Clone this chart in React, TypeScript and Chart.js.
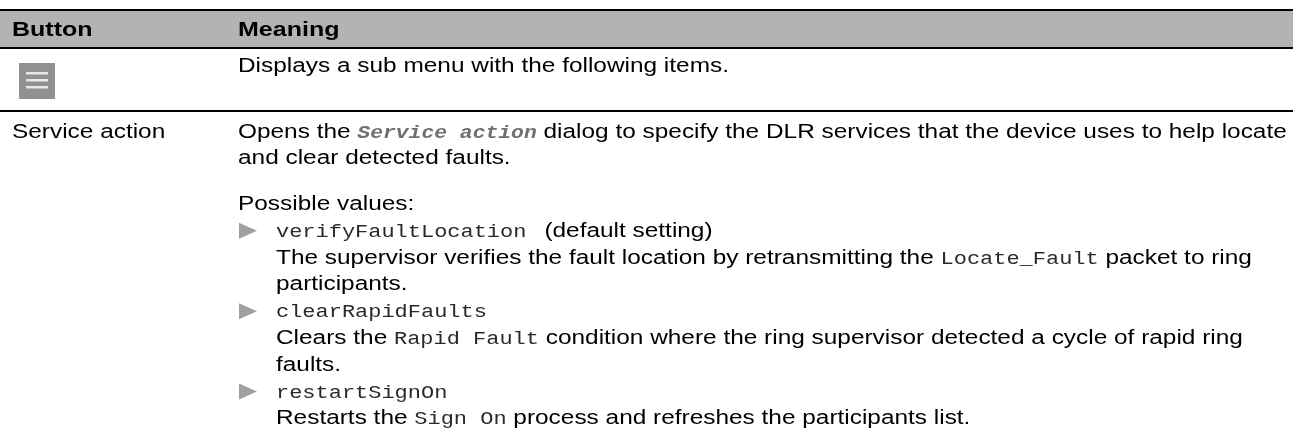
import React, { useEffect, useRef } from "react";
import { Chart, registerables } from "chart.js";

Chart.register(...registerables);

// ---------- content ----------
const headers: string[] = ["Button", "Meaning"];
const buttonLabels: string[] = ["", "Service action"];
const row1Text: string = "Displays a sub menu with the following items.";

type Run = [string, string]; // [style, text]  t=text, m=mono, mi=mono italic bold
const introLines: Run[][] = [
  [["t", "Opens the "], ["mi", "Service action"], ["t", " dialog to specify the DLR services that the device uses to help locate"]],
  [["t", "and clear detected faults."]],
];
const possibleLabel: string = "Possible values:";
const optionNames: string[] = ["verifyFaultLocation", "clearRapidFaults", "restartSignOn"];
const optionNotes: string[] = ["(default setting)", "", ""];
const optionDescriptions: Run[][][] = [
  [
    [["t", "The supervisor verifies the fault location by retransmitting the "], ["m", "Locate_Fault"], ["t", " packet to ring"]],
    [["t", "participants."]],
  ],
  [
    [["t", "Clears the "], ["m", "Rapid Fault"], ["t", " condition where the ring supervisor detected a cycle of rapid ring"]],
    [["t", "faults."]],
  ],
  [
    [["t", "Restarts the "], ["m", "Sign On"], ["t", " process and refreshes the participants list."]],
  ],
];

// ---------- style ----------
const SX = 1.22; // horizontal stretch of the reference rendering
const FONTS: Record<string, string> = {
  t: '20px "Liberation Sans", Arial, sans-serif',
  b: 'bold 20.5px "Liberation Sans", Arial, sans-serif',
  m: '18px "Liberation Mono", "Courier New", monospace',
  mi: 'italic bold 17.5px "Liberation Mono", "Courier New", monospace',
};
const COLORS: Record<string, string> = {
  t: "#000000",
  b: "#000000",
  m: "#2a2a2a",
  mi: "#707070",
};

function drawRun(ctx: CanvasRenderingContext2D, x: number, y: number, style: string, text: string): number {
  ctx.save();
  ctx.font = FONTS[style];
  ctx.fillStyle = COLORS[style];
  ctx.textBaseline = "alphabetic";
  ctx.translate(x, y);
  ctx.scale(SX, 1);
  ctx.fillText(text, 0, 0);
  const w = ctx.measureText(text).width * SX;
  ctx.restore();
  return w;
}

function drawRuns(ctx: CanvasRenderingContext2D, x: number, y: number, runs: Run[]) {
  let cx = x;
  for (const [s, t] of runs) cx += drawRun(ctx, cx, y, s, t);
}

const tablePlugin = {
  id: "tableDraw",
  afterDraw(chart: any) {
    const ctx: CanvasRenderingContext2D = chart.ctx;
    const left = 0;
    const right = 1293;
    const col1 = 12;
    const col2 = 238;
    ctx.save();
    ctx.fillStyle = "#ffffff";
    ctx.fillRect(0, 0, chart.width, chart.height);

    // header band
    ctx.fillStyle = "#b3b3b3";
    ctx.fillRect(left, 11, right - left, 36);
    ctx.fillStyle = "#000000";
    ctx.fillRect(left, 9, right - left, 2);
    ctx.fillRect(left, 47, right - left, 2);
    ctx.fillRect(left, 110, right - left, 2);

    drawRun(ctx, col1, 35.5, "b", headers[0]);
    drawRun(ctx, col2, 35.5, "b", headers[1]);

    // row 1: menu icon
    ctx.fillStyle = "#919191";
    ctx.fillRect(19, 63, 36, 36);
    ctx.fillStyle = "#e8e8e8";
    ctx.fillRect(26, 72, 22, 2.5);
    ctx.fillRect(26, 79, 22, 2.5);
    ctx.fillRect(26, 86, 22, 2.5);
    drawRun(ctx, col2, 72, "t", row1Text);

    // row 2
    drawRun(ctx, col1, 137.5, "t", buttonLabels[1]);
    const lh = 26.8;
    let y = 137.5;
    for (const line of introLines) {
      drawRuns(ctx, col2, y, line);
      y += lh;
    }
    y = 210;
    drawRun(ctx, col2, y, "t", possibleLabel);
    y += lh;
    for (let i = 0; i < optionNames.length; i++) {
      // bullet triangle
      ctx.fillStyle = "#a0a0a0";
      ctx.beginPath();
      ctx.moveTo(239, y - 14);
      ctx.lineTo(257, y - 6);
      ctx.lineTo(239, y + 2);
      ctx.closePath();
      ctx.fill();
      const w = drawRun(ctx, 276, y, "m", optionNames[i]);
      if (optionNotes[i]) drawRun(ctx, 276 + w + 18, y, "t", optionNotes[i]);
      y += lh;
      for (const line of optionDescriptions[i]) {
        drawRuns(ctx, 276, y, line);
        y += lh;
      }
    }
    ctx.restore();
  },
};

export default function App() {
  const ref = useRef<HTMLCanvasElement | null>(null);
  useEffect(() => {
    if (!ref.current) return;
    const chart = new Chart(ref.current, {
      type: "bar",
      data: { labels: [], datasets: [] },
      options: {
        animation: false,
        responsive: false,
        devicePixelRatio: 1,
        events: [],
        layout: { padding: 0 },
        plugins: { legend: { display: false }, tooltip: { enabled: false }, title: { display: false } },
        scales: { x: { display: false }, y: { display: false } },
      },
      plugins: [tablePlugin],
    });
    return () => chart.destroy();
  }, []);
  return (
    <div style={{ position: "absolute", left: 0, top: 0, width: 1303, height: 437, background: "#fff" }}>
      <canvas ref={ref} width={1303} height={437} style={{ display: "block", width: 1303, height: 437 }} />
    </div>
  );
}
